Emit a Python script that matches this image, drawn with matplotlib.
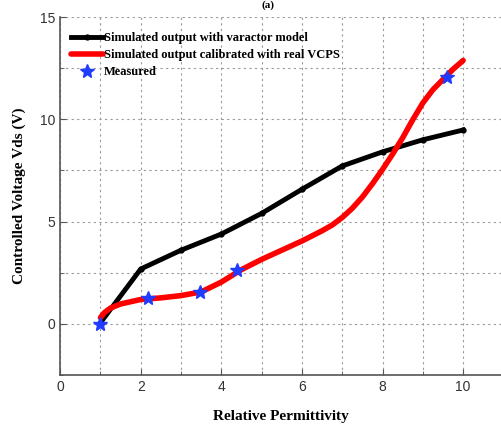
import matplotlib
matplotlib.use("Agg")
import matplotlib.pyplot as plt
from matplotlib.ticker import MultipleLocator

# data -------------------------------------------------------------
perm = [1, 2, 3, 4, 5, 6, 7, 8, 9, 10]
vds_varactor = [0.05, 2.68, 3.6, 4.39, 5.4, 6.58, 7.72, 8.41, 9.0, 9.48]

perm_vcps = [1.0, 1.1, 1.25, 1.5, 2.0, 2.5, 3.0, 3.5, 4.0, 4.5, 5.0, 5.5, 6.0,
             6.5, 6.75, 7.0, 7.25, 7.5, 7.75, 8.0, 8.25, 8.5, 8.75, 9.0,
             9.25, 9.5, 9.75, 10.0]
vds_vcps = [0.3, 0.55, 0.77, 0.97, 1.19, 1.27, 1.38, 1.56, 2.04, 2.65, 3.15, 3.6, 4.05,
            4.55, 4.83, 5.2, 5.65, 6.2, 6.85, 7.55, 8.3, 9.1, 9.98, 10.8,
            11.45, 11.95, 12.45, 12.88]

perm_meas = [0.99, 2.18, 3.47, 4.39, 9.6]
vds_meas = [0.0, 1.27, 1.55, 2.65, 12.06]

# plot --------------------------------------------------------------
fig = plt.figure(figsize=(5.01, 4.28), dpi=100)
ax = fig.add_axes([0.12, 0.124, 0.88, 0.836])

ax.plot(perm, vds_varactor, color='black', lw=3.5, marker='o', ms=3.5,
        label='Simulated output with varactor model', zorder=3)
ax.plot(perm_vcps, vds_vcps, color='red', lw=4, solid_capstyle='round',
        solid_joinstyle='round',
        label='Simulated output calibrated with real VCPS', zorder=3)
ax.plot(perm_meas, vds_meas, ls='none', marker='*', ms=10, color='#1f3cff',
        label='Measured', zorder=4)

ax.set_xlim(0, 10.94)
ax.set_ylim(-2.5, 15)
ax.xaxis.set_major_locator(MultipleLocator(2))
ax.xaxis.set_minor_locator(MultipleLocator(1))
ax.yaxis.set_major_locator(MultipleLocator(5))
ax.yaxis.set_minor_locator(MultipleLocator(2.5))
ax.grid(True, which='both', ls=(0, (2, 3)), color='#999999', lw=0.8)
ax.tick_params(which='both', direction='in', color='#555555', labelcolor='#333333',
               labelsize=10)
ax.tick_params(which='major', length=4)
ax.tick_params(which='minor', length=3)
for lab in ax.get_xticklabels() + ax.get_yticklabels():
    lab.set_family('Liberation Sans')
for s in ['top', 'right']:
    ax.spines[s].set_visible(False)
for s in ['left', 'bottom']:
    ax.spines[s].set_color('#555555')
    ax.spines[s].set_linewidth(1.2)

serif = {'family': 'Liberation Serif', 'weight': 'bold'}
ax.set_xlabel('Relative Permittivity', fontdict=serif, fontsize=11, labelpad=12)
ax.set_ylabel('Controlled Voltage Vds (V)', fontdict=serif, fontsize=11, labelpad=10)
fig.text(0.535, 1.0, '(a)', ha='center', va='top', fontdict=serif, fontsize=8)

ax.legend(loc='upper left', bbox_to_anchor=(0.0, 0.99), frameon=False,
          handlelength=2.5, handletextpad=0.1, labelspacing=0.4,
          prop={'family': 'Liberation Serif', 'weight': 'bold', 'size': 9})

fig.savefig('out.png', dpi=100)
